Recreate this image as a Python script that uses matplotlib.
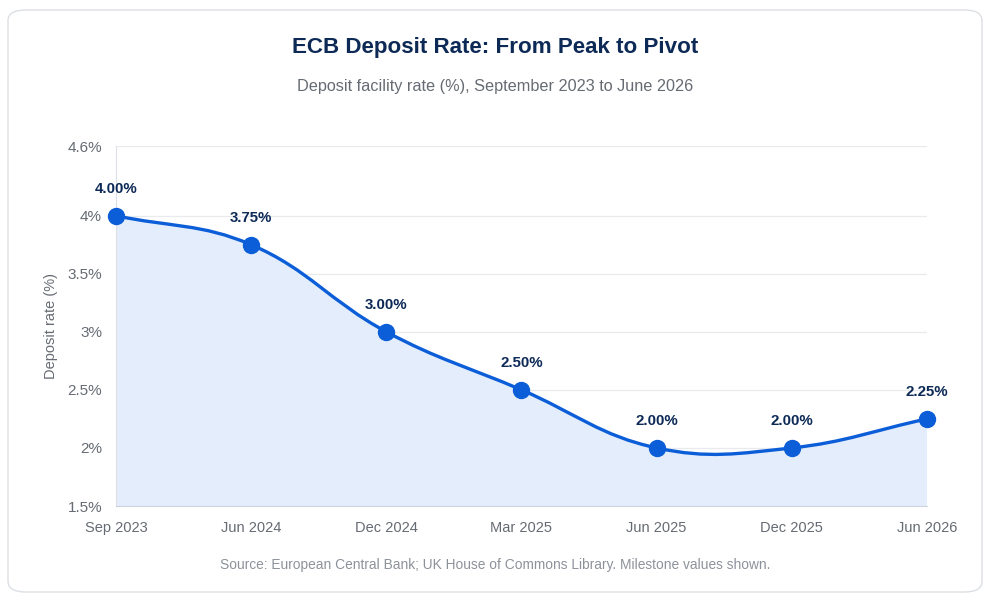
import matplotlib.pyplot as plt
import numpy as np
from matplotlib.path import Path
from matplotlib.patches import PathPatch, FancyBboxPatch

plt.rcParams['font.family'] = ['Liberation Sans', 'DejaVu Sans']

# Data
months = ["Sep 2023", "Jun 2024", "Dec 2024", "Mar 2025", "Jun 2025", "Dec 2025", "Jun 2026"]
rates = [4.00, 3.75, 3.00, 2.50, 2.00, 2.00, 2.25]
y_ticks = [1.5, 2, 2.5, 3, 3.5, 4, 4.6]

line_color = "#0b5ed7"
navy = "#0d2a57"
grey_text = "#666b73"

fig = plt.figure(figsize=(9.9, 5.97), dpi=100)

# Card background
card = FancyBboxPatch((8 / 990, 5 / 597), 974 / 990, 582 / 597,
                      boxstyle="round,pad=0,rounding_size=0.018",
                      transform=fig.transFigure, facecolor="none",
                      edgecolor="#dcdfe3", linewidth=1.0, zorder=-10)
fig.patches.append(card)

ax = fig.add_axes([116 / 990, 91 / 597, 811 / 990, 360 / 597])
ax.set_facecolor("none")
x = np.arange(len(months))
ax.set_xlim(0, len(months) - 1)
ax.set_ylim(1.5, 4.6)

# Chart.js style spline (tension 0.4), computed in pixel space
pts = ax.transData.transform(np.column_stack([x, rates]))
tension = 0.4
cps = []
n = len(pts)
for i in range(n):
    prev = pts[max(i - 1, 0)]
    cur = pts[i]
    nxt = pts[min(i + 1, n - 1)]
    d01 = np.hypot(*(cur - prev))
    d12 = np.hypot(*(nxt - cur))
    tot = d01 + d12
    s01 = d01 / tot if tot else 0
    s12 = d12 / tot if tot else 0
    cps.append((cur - tension * s01 * (nxt - prev), cur + tension * s12 * (nxt - prev)))

verts = [pts[0]]
codes = [Path.MOVETO]
for i in range(n - 1):
    verts += [cps[i][1], cps[i + 1][0], pts[i + 1]]
    codes += [Path.CURVE4] * 3
inv = ax.transData.inverted()
verts_data = inv.transform(np.array(verts))

line_path = Path(verts_data, codes)
fill_verts = list(verts_data) + [(x[-1], 1.5), (x[0], 1.5), (x[0], rates[0])]
fill_codes = codes + [Path.LINETO, Path.LINETO, Path.CLOSEPOLY]
ax.add_patch(PathPatch(Path(fill_verts, fill_codes), facecolor="#e4edfb",
                       edgecolor="none", zorder=1))
ax.add_patch(PathPatch(line_path, facecolor="none", edgecolor=line_color,
                       linewidth=2.4, zorder=3, capstyle="round"))

ax.plot(x, rates, linestyle="none", marker="o", markersize=11.5,
        color=line_color, zorder=4, clip_on=False)

for xi, r in zip(x, rates):
    ax.annotate(f"{r:.2f}%", (xi, r), xytext=(0, 14), textcoords="offset points",
                ha="center", va="bottom", fontsize=10.8, fontweight="bold",
                color=navy, zorder=5)

# Axes styling
ax.set_yticks(y_ticks)
ax.set_yticklabels([f"{v:g}%" for v in y_ticks])
ax.set_xticks(x)
ax.set_xticklabels(months)
ax.tick_params(axis="both", length=0, labelsize=10.5, labelcolor=grey_text)
ax.tick_params(axis="y", pad=10, labelsize=11)
ax.tick_params(axis="x", pad=11)
ax.grid(axis="y", color="#e8eaee", linewidth=0.9, zorder=0)
ax.set_axisbelow(True)
for side in ["top", "right"]:
    ax.spines[side].set_visible(False)
ax.spines["left"].set_color("#dde1e7")
ax.spines["bottom"].set_color("#ccd3dd")
ax.set_ylabel("Deposit rate (%)", fontsize=10.5, color=grey_text, labelpad=7)

fig.text(0.5, 1 - 48 / 597, "ECB Deposit Rate: From Peak to Pivot", ha="center",
         va="center", fontsize=16.1, fontweight="bold", color=navy)
fig.text(0.5, 1 - 87 / 597, "Deposit facility rate (%), September 2023 to June 2026",
         ha="center", va="center", fontsize=11.7, color=grey_text)
fig.text(0.5, 1 - 565 / 597,
         "Source: European Central Bank; UK House of Commons Library. Milestone values shown.",
         ha="center", va="center", fontsize=9.9, color="#8d929a")

fig.savefig("out.png", dpi=100)
